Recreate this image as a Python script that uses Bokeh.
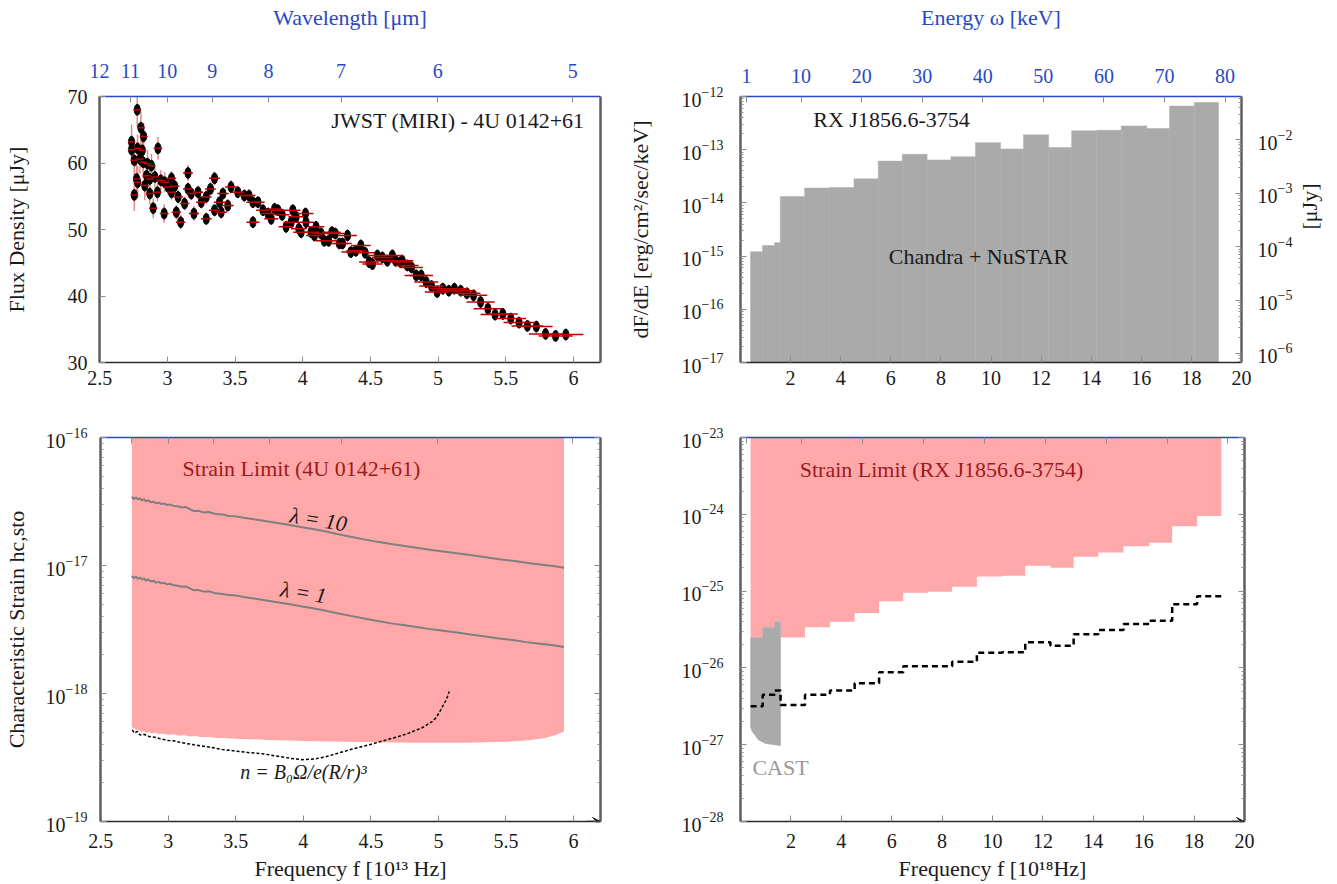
import math
from bokeh.plotting import figure
from bokeh.models import (LinearAxis, LogAxis, Range1d, LogScale, FixedTicker,
                          CustomJSTickFormatter, Label, Arrow, VeeHead)
from bokeh.layouts import column, row
from bokeh.embed import file_html
from bokeh.resources import INLINE

# ------------------------------------------------------------------ data
C_UM = 29.9792458      # f[1e13 Hz] * lambda[um]
KEV = 0.2417989        # 1 keV in 1e18 Hz

# Top-left: JWST MIRI spectrum of 4U 0142+61 (frequency in 1e13 Hz, flux in uJy)
freq = [2.735, 2.735, 2.755, 2.755, 2.772, 2.777, 2.779, 2.780, 2.797, 2.804,
        2.814, 2.821, 2.824, 2.833, 2.846, 2.853, 2.870, 2.870, 2.882, 2.895,
        2.907, 2.926, 2.930, 2.951, 2.976, 2.980, 3.005, 3.030, 3.030, 3.054,
        3.066, 3.079, 3.098, 3.127, 3.152, 3.152, 3.176, 3.196, 3.226, 3.250,
        3.287, 3.287, 3.318, 3.348, 3.348, 3.385, 3.397, 3.410, 3.446, 3.470,
        3.520, 3.568,
        3.603, 3.632, 3.632, 3.669, 3.706, 3.743, 3.767, 3.792, 3.816, 3.848,
        3.877, 3.914, 3.926, 3.951, 3.971, 3.988, 4.020, 4.024, 4.061, 4.086,
        4.098, 4.135, 4.159, 4.191, 4.215, 4.240, 4.270, 4.294, 4.331, 4.355,
        4.392, 4.429, 4.461, 4.490, 4.515, 4.551, 4.588, 4.625, 4.662, 4.686,
        4.723,
        4.735, 4.772, 4.804, 4.838, 4.875, 4.912, 4.951, 4.993, 5.035, 5.079,
        5.120, 5.167, 5.213, 5.262, 5.314, 5.368, 5.421, 5.478, 5.537, 5.598,
        5.660, 5.726, 5.794, 5.868, 5.944]
flux = [63.2, 62.0, 60.4, 55.2, 57.6, 68.0, 62.2, 57.1, 60.6, 65.3,
        61.9, 60.1, 64.0, 56.6, 58.1, 59.9, 57.6, 55.4, 59.6, 53.2,
        57.9, 55.6, 62.2, 57.4, 52.4, 57.1, 56.4, 57.7, 55.6, 56.5,
        52.6, 54.9, 51.1, 53.9, 58.5, 56.1, 55.4, 52.4, 55.6, 54.1,
        54.9, 51.6, 56.1, 57.7, 52.9, 54.1, 52.6, 55.4, 53.6, 56.4,
        55.6, 55.1,
        55.1, 54.1, 51.1, 54.1, 52.9, 52.4, 51.6, 53.1, 52.9, 52.2,
        50.4, 51.1, 52.9, 51.9, 50.1, 49.6, 52.4, 51.1, 49.6, 49.1,
        50.4, 49.4, 48.3, 48.3, 49.6, 49.4, 47.9, 47.9, 49.1, 46.6,
        46.8, 47.6, 46.5, 45.1, 44.8, 46.1, 45.8, 45.3, 46.1, 45.3,
        45.1,
        45.3, 44.6, 44.3, 43.1, 43.1, 42.1, 41.5, 40.6, 41.1, 40.8,
        41.1, 40.8, 40.4, 40.1, 39.1, 38.1, 37.2, 37.3, 36.6, 36.0,
        35.5, 35.4, 34.3, 34.0, 34.2]
flux_err = [2.6, 2.2, 2.5, 2.4, 2.3, 2.6, 2.1, 2.4, 2.2, 2.5,
            2.0, 2.3, 2.1, 2.2, 1.9, 2.0, 1.7, 1.6, 1.8, 1.5,
            1.6, 1.4, 1.7, 1.5, 1.4, 1.5, 1.2, 1.1, 1.2, 1.0,
            1.1, 1.0, 1.1, 1.0, 1.2, 1.0, 1.0, 1.1, 1.0, 0.9,
            1.0, 0.9, 1.0, 1.0, 0.9, 0.9, 1.0, 0.9, 0.9, 1.0,
            0.9, 0.9,
            0.9, 0.8, 0.8, 0.8, 0.8, 0.8, 0.8, 0.8, 0.8, 0.8,
            0.8, 0.8, 0.8, 0.8, 0.8, 0.8, 0.8, 0.8, 0.8, 0.8,
            0.8, 0.8, 0.8, 0.8, 0.8, 0.8, 0.8, 0.8, 0.8, 0.8,
            0.8, 0.8, 0.8, 0.8, 0.8, 0.8, 0.8, 0.8, 0.8, 0.8,
            0.8,
            0.8, 0.8, 0.8, 0.8, 0.8, 0.8, 0.8, 0.8, 0.8, 0.8,
            0.8, 0.8, 0.8, 0.8, 0.8, 0.8, 0.8, 0.8, 0.8, 0.8,
            0.8, 0.8, 0.8, 0.8, 0.8]
wl_halfbin = 0.11      # um, half width of a wavelength bin

wl_ticks = [12, 11, 10, 9, 8, 7, 6, 5]
f13_ticks = [2.5, 3, 3.5, 4, 4.5, 5, 5.5, 6]
flux_ticks = [30, 40, 50, 60, 70]

# Top-right: Chandra + NuSTAR spectrum of RX J1856.6-3754 (bins in 1e18 Hz)
bin_edges = [0.4, 0.88, 1.36, 1.59, 2.56, 3.55, 4.53, 5.5, 6.46, 7.45, 8.4,
             9.38, 10.38, 11.3, 12.3, 13.22, 14.2, 15.2, 16.22, 17.13, 18.12, 19.08]
dfde = [1.21e-15, 1.58e-15, 1.78e-15, 1.32e-14, 1.90e-14, 1.95e-14, 2.84e-14,
        6.1e-14, 8.2e-14, 6.4e-14, 7.4e-14, 1.35e-13, 1.03e-13, 1.9e-13,
        1.1e-13, 2.27e-13, 2.32e-13, 2.79e-13, 2.5e-13, 6.6e-13, 7.7e-13]
kev_ticks = [1, 10, 20, 30, 40, 50, 60, 70, 80]
f18_ticks = [2, 4, 6, 8, 10, 12, 14, 16, 18, 20]

# Bottom-left: strain limit for 4U 0142+61
strain_f = [2.73, 2.74, 2.75, 2.76, 2.77, 2.78, 2.79, 2.80, 2.82, 2.84, 2.86,
            2.88, 2.90, 2.93, 2.96, 3.00, 3.04, 3.08, 3.12, 3.16, 3.20, 3.25,
            3.30, 3.36, 3.42, 3.50, 3.60, 3.70, 3.80, 3.90, 4.00, 4.10, 4.20,
            4.30, 4.40, 4.50, 4.60, 4.70, 4.80, 4.90, 5.00, 5.10, 5.20, 5.30,
            5.40, 5.50, 5.60, 5.70, 5.78, 5.86, 5.93]
strain_low_e19 = [5.6, 5.2, 5.45, 5.1, 5.3, 5.0, 5.2, 4.95, 5.1, 4.9, 5.0,
                  4.85, 4.95, 4.8, 4.88, 4.75, 4.8, 4.68, 4.72, 4.62, 4.65, 4.55,
                  4.57, 4.49, 4.5, 4.44, 4.4, 4.36, 4.32, 4.29, 4.26, 4.23, 4.21,
                  4.19, 4.18, 4.17, 4.15, 4.14, 4.13, 4.12, 4.12, 4.12, 4.13, 4.15,
                  4.17, 4.2, 4.25, 4.35, 4.48, 4.7, 5.05]
lam_f = [2.73, 2.745, 2.76, 2.775, 2.79, 2.805, 2.82, 2.835, 2.85, 2.87, 2.89,
         2.91, 2.93, 2.95, 2.97, 2.99, 3.01, 3.04, 3.07, 3.10, 3.13, 3.16, 3.19,
         3.22, 3.26, 3.30, 3.35, 3.40, 3.45, 3.50, 3.56, 3.62, 3.68, 3.75, 3.82,
         3.90, 3.98, 4.06, 4.15, 4.25, 4.35, 4.45, 4.55, 4.65, 4.75, 4.85, 4.95,
         5.05, 5.15, 5.25, 5.35, 5.45, 5.55, 5.65, 5.75, 5.85, 5.93]
h_lam10_e17 = [3.45, 3.30, 3.40, 3.28, 3.35, 3.22, 3.30, 3.18, 3.24, 3.12, 3.16,
               3.06, 3.10, 3.02, 3.05, 2.97, 3.00, 2.92, 2.90, 2.84, 2.86, 2.76, 2.66,
               2.68, 2.60, 2.62, 2.52, 2.50, 2.44, 2.42, 2.36, 2.31, 2.26, 2.20, 2.14,
               2.07, 2.00, 1.94, 1.86, 1.76, 1.68, 1.60, 1.53, 1.47, 1.42, 1.37, 1.32,
               1.28, 1.24, 1.20, 1.16, 1.12, 1.09, 1.05, 1.02, 0.99, 0.96]
h_lam1_e18 = [8.3, 7.95, 8.2, 7.85, 8.05, 7.75, 7.95, 7.6, 7.8, 7.5, 7.6,
              7.35, 7.45, 7.25, 7.32, 7.12, 7.2, 7.02, 6.95, 6.82, 6.86, 6.62, 6.4,
              6.45, 6.25, 6.3, 6.06, 6.0, 5.87, 5.82, 5.67, 5.55, 5.43, 5.29, 5.14,
              4.98, 4.81, 4.66, 4.47, 4.23, 4.04, 3.85, 3.68, 3.53, 3.41, 3.29, 3.17,
              3.08, 2.98, 2.88, 2.79, 2.69, 2.62, 2.52, 2.45, 2.38, 2.31]
model_f = [2.733, 2.75, 2.77, 2.79, 2.82, 2.86, 2.90, 2.95, 3.00, 3.05, 3.10,
           3.19, 3.30, 3.40, 3.50, 3.60, 3.70, 3.80, 3.90, 3.99, 4.08, 4.16,
           4.25, 4.35, 4.49, 4.60, 4.70, 4.78, 4.88, 4.95, 4.98, 5.01, 5.03,
           5.06, 5.08]
model_h_e19 = [5.2, 4.9, 5.05, 4.75, 4.8, 4.6, 4.55, 4.4, 4.3, 4.25, 4.12,
               3.98, 3.82, 3.65, 3.55, 3.45, 3.38, 3.25, 3.12, 3.04, 3.08, 3.19,
               3.4, 3.65, 3.98, 4.3, 4.6, 4.9, 5.4, 6.0, 6.42, 7.2, 7.9,
               9.0, 10.35]

# Bottom-right: strain limit for RX J1856.6-3754 (same bins as top-right)
strain_rx = [2.48e-26, 3.39e-26, 3.98e-26, 2.48e-26, 3.39e-26, 3.98e-26, 5.2e-26,
             7.4e-26, 9.5e-26, 9.8e-26, 1.14e-25, 1.55e-25, 1.59e-25, 2.14e-25,
             2.01e-25, 2.8e-25, 3.19e-25, 3.85e-25, 4.26e-25, 7.0e-25, 9.5e-25]
model_rx = [3.16e-27, 4.47e-27, 5.07e-27, 3.3e-27, 4.47e-27, 5.07e-27, 6.3e-27,
            8.8e-27, 1.05e-26, 1.05e-26, 1.2e-26, 1.58e-26, 1.6e-26, 2.15e-26,
            1.95e-26, 2.74e-26, 3.12e-26, 3.73e-26, 4.12e-26, 6.76e-26, 8.6e-26]
cast_f = [0.4, 0.45, 0.58, 0.71, 0.98, 1.59]
cast_low = [1.71e-27, 1.5e-27, 1.33e-27, 1.15e-27, 1.04e-27, 0.97e-27]

# ------------------------------------------------------------------ style
SERIF = "Liberation Serif"
BLUE = "#2A48C4"
PINK = "#FFA8AA"
GRAY = "#AAAAAA"
DARKRED = "#9E1A1A"
AXGRAY = "#5E5E5E"
TICKGRAY = "#8C8C8C"
INK = "#1A1A1A"
TICK_FS = "20px"
LAB_FS = "22px"


def make_fig(w, h, xr, yr, ylog, bl, br, bt, bb):
    p = figure(width=w, height=h, x_range=Range1d(*xr), y_range=Range1d(*yr),
               y_axis_type="log" if ylog else "linear",
               output_backend="svg", toolbar_location=None,
               min_border_left=bl, min_border_right=br,
               min_border_top=bt, min_border_bottom=bb)
    p.grid.visible = False
    p.outline_line_color = None
    p.background_fill_color = "white"
    p.border_fill_color = "white"
    return p


def style(ax, color, width, standoff=8, label_color=INK, labels=True):
    ax.axis_line_color = color
    ax.axis_line_width = width
    ax.major_tick_in = 6
    ax.major_tick_out = 0
    ax.minor_tick_in = 3
    ax.minor_tick_out = 0
    ax.major_tick_line_color = TICKGRAY
    ax.minor_tick_line_color = TICKGRAY
    ax.major_tick_line_width = 1
    ax.minor_tick_line_width = 1
    ax.major_label_text_font = SERIF
    ax.major_label_text_font_size = TICK_FS
    ax.major_label_text_color = label_color
    ax.major_label_standoff = standoff
    if not labels:
        ax.formatter = CustomJSTickFormatter(code="return '';")


def axis_title(ax, text, standoff, color=INK):
    ax.axis_label = text
    ax.axis_label_text_font = SERIF
    ax.axis_label_text_font_size = LAB_FS
    ax.axis_label_text_font_style = "normal"
    ax.axis_label_text_color = color
    ax.axis_label_standoff = standoff


def log_ticker(lo, hi):
    majors = [10.0 ** e for e in range(lo, hi + 1)]
    minors = [m * 10.0 ** e for e in range(lo - 1, hi + 1) for m in range(2, 10)]
    return FixedTicker(ticks=majors, minor_ticks=minors)


def label(p, x, y, text, size=LAB_FS, color=INK, angle=0.0, align="center",
          style_="normal"):
    p.add_layout(Label(x=x, y=y, x_units="screen", y_units="screen", text=text,
                       text_font=SERIF, text_font_size=size, text_color=color,
                       angle=angle, text_align=align, text_baseline="middle",
                       text_font_style=style_))


def steps(edges, vals):
    xs, ys = [], []
    for i, v in enumerate(vals):
        xs += [edges[i], edges[i + 1]]
        ys += [v, v]
    return xs, ys


wl_fmt = "return (29.9792458/tick).toFixed(0);"
kev_fmt = "return (tick/0.2417989).toFixed(0);"
num_fmt = "return String(tick);"
wl_pos = [C_UM / l for l in wl_ticks]
kev_pos = [k * KEV for k in kev_ticks]

# ------------------------------------------------------------------ top-left
tl = make_fig(620, 392, (2.498, 6.2), (30, 70), False, 96, 20, 96, 30)
xa = tl.xaxis[0]
xa.ticker = FixedTicker(ticks=f13_ticks)
style(xa, "#2A2A2A", 1.5, standoff=8)
xa.formatter = CustomJSTickFormatter(code=num_fmt)
ya = tl.yaxis[0]
ya.ticker = FixedTicker(ticks=flux_ticks)
style(ya, AXGRAY, 2.5, standoff=12)
axis_title(ya, "Flux Density [μJy]", 36)
top = LinearAxis(ticker=FixedTicker(ticks=wl_pos))
style(top, BLUE, 1.5, standoff=19, label_color=BLUE)
top.formatter = CustomJSTickFormatter(code=wl_fmt)
axis_title(top, "Wavelength [μm]", 31, color=BLUE)
tl.add_layout(top, "above")
rgt = LinearAxis(ticker=FixedTicker(ticks=[]))
style(rgt, AXGRAY, 2.5, labels=False)
tl.add_layout(rgt, "right")

xerr = [fi * fi * wl_halfbin / C_UM for fi in freq]
tl.segment(x0=freq, y0=[v - e for v, e in zip(flux, flux_err)],
           x1=freq, y1=[v + e for v, e in zip(flux, flux_err)],
           line_color="#E38C8C", line_width=1.5)
tl.ellipse(x=freq, y=flux, width=6, height=11, width_units="screen",
           height_units="screen", fill_color="black", line_color="black")
tl.segment(x0=[f - e for f, e in zip(freq, xerr)], y0=flux,
           x1=[f + e for f, e in zip(freq, xerr)], y1=flux,
           line_color="#C00000", line_width=1.5)

label(tl, 485, 242, "JWST (MIRI) - 4U 0142+61", align="right")

# ------------------------------------------------------------------ top-right
tr = make_fig(717, 392, (0, 20), (1e-17, 1e-12), True, 120, 93, 96, 30)
xa = tr.xaxis[0]
xa.ticker = FixedTicker(ticks=f18_ticks)
style(xa, "#2A2A2A", 1.5, standoff=8)
ya = tr.yaxis[0]
ya.ticker = log_ticker(-17, -12)
style(ya, AXGRAY, 2.5, standoff=17)
axis_title(ya, "dF/dE [erg/cm²/sec/keV]", 26)
top = LinearAxis(ticker=FixedTicker(ticks=kev_pos))
style(top, BLUE, 1.5, standoff=14, label_color=BLUE)
top.formatter = CustomJSTickFormatter(code=kev_fmt)
axis_title(top, "Energy ω [keV]", 36, color=BLUE)
tr.add_layout(top, "above")
tr.extra_y_ranges = {"ujy": Range1d(6.76e-7, 0.0647)}
tr.extra_y_scales = {"ujy": LogScale()}
rax = LogAxis(y_range_name="ujy", ticker=log_ticker(-6, -2))
style(rax, AXGRAY, 2.5, standoff=16)
axis_title(rax, "[μJy]", 14)
if "axis_label_orientation" in rax.properties():
    rax.axis_label_orientation = math.pi / 2
tr.add_layout(rax, "right")

tr.quad(left=bin_edges[:-1], right=bin_edges[1:], bottom=1e-17, top=dfde,
        fill_color=GRAY, line_color=GRAY, line_width=0.5)

label(tr, 151, 243, "RX J1856.6-3754")
label(tr, 238, 106, "Chandra + NuSTAR")

# ------------------------------------------------------------------ bottom-left
bl = make_fig(620, 491, (2.498, 6.2), (1e-19, 1e-16), True, 96, 20, 45, 61)
xa = bl.xaxis[0]
xa.ticker = FixedTicker(ticks=f13_ticks)
style(xa, "#2A2A2A", 1.5, standoff=12)
xa.formatter = CustomJSTickFormatter(code=num_fmt)
axis_title(xa, "Frequency f [10¹³ Hz]", 5)
ya = bl.yaxis[0]
ya.ticker = log_ticker(-19, -16)
style(ya, AXGRAY, 2.5, standoff=13)
axis_title(ya, "Characteristic Strain hc,sto", 14)
top = LinearAxis(ticker=FixedTicker(ticks=wl_pos))
style(top, BLUE, 1.5, labels=False)
bl.add_layout(top, "above")
rgt = LogAxis(ticker=log_ticker(-19, -16))
style(rgt, AXGRAY, 2.5, labels=False)
bl.add_layout(rgt, "right")

bl.varea(x=strain_f, y1=[v * 1e-19 for v in strain_low_e19],
         y2=[1e-16] * len(strain_f), fill_color=PINK)
bl.line(lam_f, [v * 1e-17 for v in h_lam10_e17], line_color="#7F7F7F", line_width=2)
bl.line(lam_f, [v * 1e-18 for v in h_lam1_e18], line_color="#7F7F7F", line_width=2)
bl.line(model_f, [v * 1e-19 for v in model_h_e19], line_color="black",
        line_width=1.5, line_dash="3 2")
bl.add_layout(Arrow(end=VeeHead(size=8, fill_color="#2A2A2A", line_color="#2A2A2A"),
                    x_start=6.1, y_start=1e-19, x_end=6.2, y_end=1e-19,
                    line_color="#2A2A2A", line_width=1.5))

label(bl, 201, 353, "Strain Limit (4U 0142+61)", color=DARKRED)
label(bl, 218, 302, "λ = 10", angle=-0.16, style_="italic")
label(bl, 203, 229, "λ = 1", angle=-0.16, style_="italic")
label(bl, 203, 50, "n = B₀Ω/e(R/r)³", style_="italic", size="20px")

# ------------------------------------------------------------------ bottom-right
br = make_fig(717, 491, (0, 20), (1e-28, 1e-23), True, 120, 93, 45, 61)
xa = br.xaxis[0]
xa.ticker = FixedTicker(ticks=f18_ticks)
style(xa, "#2A2A2A", 1.5, standoff=12)
axis_title(xa, "Frequency f [10¹⁸Hz]", 5)
ya = br.yaxis[0]
ya.ticker = log_ticker(-28, -23)
style(ya, AXGRAY, 2.5, standoff=17)
top = LinearAxis(ticker=FixedTicker(ticks=kev_pos))
style(top, BLUE, 1.5, labels=False)
br.add_layout(top, "above")
rgt = LogAxis(ticker=log_ticker(-28, -23))
style(rgt, AXGRAY, 2.5, labels=False)
br.add_layout(rgt, "right")

sx, sy = steps(bin_edges, strain_rx)
br.varea(x=sx, y1=sy, y2=[1e-23] * len(sx), fill_color=PINK)
cx, cy = steps(bin_edges[:4], strain_rx[:3])
cx = cx + cast_f[::-1]
cy = cy + cast_low[::-1]
br.patch(cx, cy, fill_color=GRAY, line_color=GRAY, line_width=0.5)
mx, my = steps(bin_edges, model_rx)
br.line(mx, my, line_color="black", line_width=2.5, line_dash="6 4")
br.add_layout(Arrow(end=VeeHead(size=8, fill_color="#2A2A2A", line_color="#2A2A2A"),
                    x_start=19.5, y_start=1e-28, x_end=20.0, y_end=1e-28,
                    line_color="#2A2A2A", line_width=1.5))

label(br, 201, 352, "Strain Limit (RX J1856.6-3754)", color=DARKRED)
label(br, 40, 54, "CAST", color="#999999")

page = column(row(tl, tr), row(bl, br))
open("out.html", "w").write(file_html(page, INLINE))
